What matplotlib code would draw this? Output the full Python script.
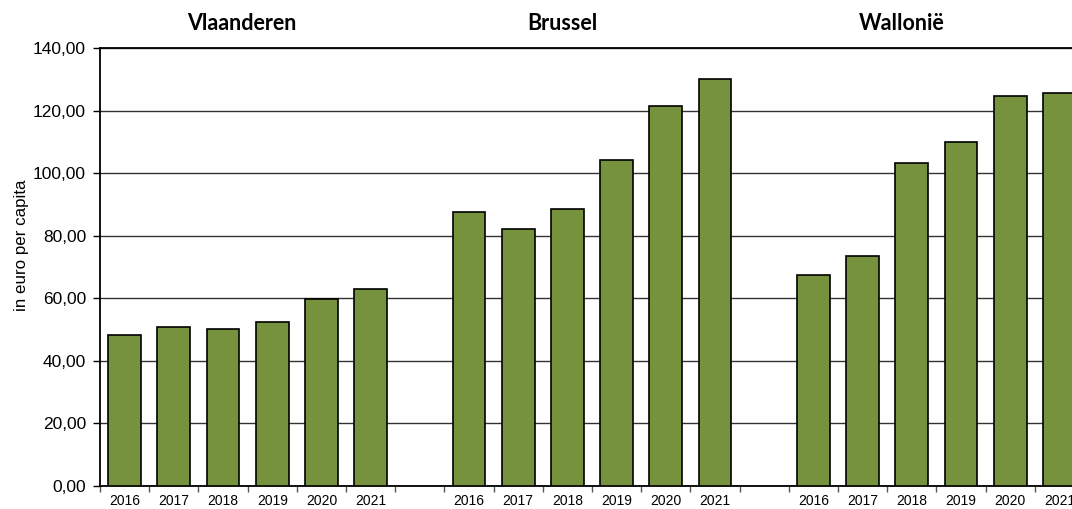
import numpy as np
import matplotlib.pyplot as plt
from matplotlib.ticker import FuncFormatter, MultipleLocator

regions = ["Vlaanderen", "Brussel", "Wallonië"]
years = ["2016", "2017", "2018", "2019", "2020", "2021"]
vlaanderen = [48.3, 50.8, 50.2, 52.4, 59.8, 63.0]
brussel = [87.5, 82.0, 88.6, 104.2, 121.5, 130.0]
wallonie = [67.4, 73.5, 103.4, 110.0, 124.5, 125.7]

plt.rcParams['font.family'] = ['Liberation Sans', 'DejaVu Sans']

fig = plt.figure(figsize=(10.72, 5.09), dpi=100)
# axes runs slightly past the right edge, like the cropped original
ax = fig.add_axes([100 / 1072, 23 / 509, 984 / 1072, 438 / 509])

series = [vlaanderen, brussel, wallonie]
positions = []
labels = []
values = []
for g, vals in enumerate(series):
    start = g * 7
    for i, v in enumerate(vals):
        positions.append(start + i + 0.5)
        labels.append(years[i])
        values.append(v)

ax.bar(positions, values, width=0.67, color='#77923c', edgecolor='black',
       linewidth=1.2, zorder=3)

ax.set_xlim(0, 20)
ax.set_ylim(0, 140)
ax.yaxis.set_major_locator(MultipleLocator(20))
ax.yaxis.set_major_formatter(FuncFormatter(lambda v, p: f"{v:.2f}".replace('.', ',')))
ax.grid(axis='y', color='#333333', linewidth=1.0, zorder=0)

ax.set_xticks(positions)
ax.set_xticklabels(labels, fontsize=10)
ax.set_xticks(np.arange(0, 21, 1), minor=True)
ax.tick_params(axis='x', which='major', length=0, pad=6)
ax.tick_params(axis='x', which='minor', length=4, width=1, color='#555555')
ax.tick_params(axis='y', length=5, width=1, labelsize=12.5, pad=5)

for s in ['left', 'bottom', 'top']:
    ax.spines[s].set_color('black')
    ax.spines[s].set_linewidth(1.3)
ax.spines['right'].set_visible(False)

ax.set_ylabel("in euro per capita", fontsize=12.2)
ax.yaxis.set_label_coords(-0.0725, 0.55)

title_x = [2.89, 9.4, 16.3]
for name, x in zip(regions, title_x):
    ax.text(x, 1.057, name, transform=ax.get_xaxis_transform(), ha='center',
            va='center', fontsize=15.5, fontweight='bold', family=['Lato', 'DejaVu Sans'])

fig.savefig("out.png", dpi=100)
